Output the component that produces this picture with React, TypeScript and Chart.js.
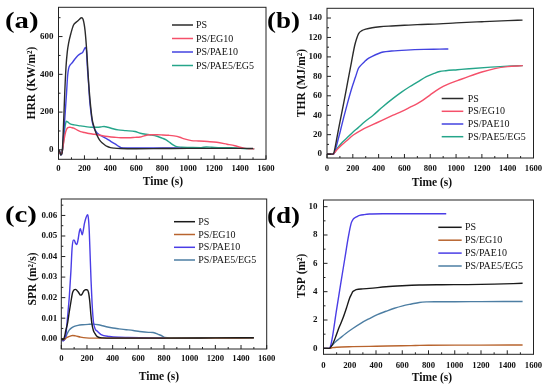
import React, { useEffect, useRef } from "react";
import { Chart, registerables } from "chart.js";
Chart.register(...registerables);

const W = 550;
const H = 391;
const SERIF = "'Liberation Serif', 'Times New Roman', serif";

// ---- shared ticks ----
const TIME_TICKS = [0, 200, 400, 600, 800, 1000, 1200, 1400, 1600];
const TIME_MINOR = [100, 300, 500, 700, 900, 1100, 1300, 1500];
const SERIES_LABELS = ["PS", "PS/EG10", "PS/PAE10", "PS/PAE5/EG5"];

// ---- (a) HRR ----
const HRR_TICKS = [0, 200, 400, 600];
const HRR_MINOR = [100, 300, 500, 700];
const hrrPS = [[0,0],[10,-10],[18,-28],[28,-15],[38,120],[48,300],[58,440],[68,520],[78,565],[95,615],[115,660],[140,678],[160,690],[177,700],[190,690],[205,630],[218,520],[232,360],[245,250],[260,160],[275,120],[290,88],[310,60],[325,45],[350,30],[375,18],[400,12],[430,9],[480,7],[600,6],[800,7],[1000,8],[1200,8],[1400,8],[1500,8]];
const hrrEG10 = [[0,0],[18,-25],[30,-5],[40,40],[50,80],[60,105],[72,118],[85,120],[100,118],[118,115],[145,105],[170,97],[200,92],[223,88],[260,84],[300,80],[340,75],[380,71],[430,67],[480,64],[540,64],[590,66],[630,68],[660,74],[700,80],[760,80],[800,79],[850,77],[890,74],[935,67],[970,58],[1025,49],[1080,47],[1150,44],[1220,40],[1300,30],[1360,22],[1400,14],[1440,8],[1470,6],[1510,5]];
const hrrPAE10 = [[0,0],[10,-10],[18,-28],[28,-15],[40,80],[52,200],[62,300],[70,390],[78,430],[90,450],[104,460],[125,480],[150,500],[170,510],[185,515],[200,535],[208,543],[215,530],[222,445],[232,350],[240,265],[250,200],[262,143],[275,115],[290,97],[310,82],[338,71],[370,60],[405,44],[440,30],[465,18],[482,12],[520,10],[700,10],[900,10],[950,9]];
const hrrPAE5EG5 = [[0,0],[18,-25],[30,-5],[40,50],[48,110],[55,140],[60,152],[70,148],[90,138],[120,132],[170,127],[210,123],[250,120],[300,120],[330,122],[352,124],[380,120],[420,112],[460,106],[520,102],[590,97],[630,88],[700,80],[760,72],[800,62],[830,53],[860,38],[880,28],[905,18],[950,14],[1010,13],[1100,12],[1140,15],[1180,14],[1250,12],[1330,12],[1400,8],[1450,6],[1510,5]];

// ---- (b) THR ----
const THR_TICKS = [0, 20, 40, 60, 80, 100, 120, 140];
const THR_MINOR = [10, 30, 50, 70, 90, 110, 130];
const thrPS = [[0,0],[48,0],[55,2],[80,19],[100,33],[130,53],[160,74],[190,95],[215,112],[230,119],[245,124],[270,127],[300,128.5],[350,130],[410,131],[500,131.8],[600,132.5],[700,133.2],[870,134],[1000,135],[1200,136.2],[1400,137.3],[1515,137.8]];
const thrEG10 = [[0,0],[45,0],[55,1],[80,5],[110,9],[150,13.5],[204,19.6],[270,25],[358,30.5],[430,35],[512,40],[580,44],[641,48],[700,52],[744,55.6],[800,61],[873,67.6],[930,71.5],[1010,75.5],[1100,80],[1200,84.5],[1300,88],[1400,90],[1517,91]];
const thrPAE10 = [[0,0],[52,0],[60,2],[80,12],[100,22],[130,38],[160,53],[190,67],[220,79],[243,88],[260,91],[290,95],[310,97.5],[350,100.5],[400,103.5],[435,105],[500,106],[615,107],[750,107.7],[873,108],[940,108.2]];
const thrPAE5EG5 = [[0,0],[45,0],[55,1],[80,6],[110,11],[150,16],[204,23],[240,27],[290,33],[358,40],[430,48.5],[512,57.3],[580,64],[640,69.3],[700,74],[770,79.6],[830,83],[873,85],[920,85.8],[1010,86.8],[1100,87.8],[1270,89.5],[1400,90.5],[1517,91]];

// ---- (c) SPR ----
const SPR_TICKS = [0, 0.01, 0.02, 0.03, 0.04, 0.05, 0.06];
const SPR_MINOR = [0.005, 0.015, 0.025, 0.035, 0.045, 0.055, 0.065];
const sprPS = [[0,0],[15,-0.0005],[25,0.001],[35,0.004],[50,0.008],[62,0.013],[75,0.018],[88,0.0225],[100,0.0238],[110,0.024],[122,0.0235],[135,0.0225],[150,0.0212],[160,0.0215],[175,0.0232],[188,0.0238],[200,0.0238],[212,0.0225],[222,0.018],[230,0.012],[238,0.0075],[250,0.004],[260,0.0027],[280,0.001],[320,0.0004],[400,0.0003],[800,0.0003],[1200,0.0004],[1500,0.0005]];
const sprEG10 = [[0,0],[15,-0.0005],[30,0],[50,0.0008],[70,0.0013],[88,0.0016],[110,0.0014],[150,0.0008],[193,0.0004],[250,0.0003],[400,0.0003],[800,0.0003],[1200,0.0003],[1500,0.0004]];
const sprPAE10 = [[0,0],[15,-0.001],[25,-0.0005],[36,0.002],[48,0.01],[63,0.021],[75,0.033],[84,0.044],[93,0.048],[101,0.048],[110,0.0465],[120,0.0458],[130,0.048],[140,0.0519],[148,0.0535],[156,0.052],[163,0.0506],[172,0.053],[180,0.056],[193,0.059],[205,0.0603],[212,0.058],[218,0.052],[225,0.04],[232,0.028],[240,0.017],[250,0.0084],[262,0.005],[283,0.0035],[310,0.002],[375,0.0011],[450,0.0007],[520,0.0006],[700,0.0004],[810,0.0003]];
const sprPAE5EG5 = [[0,0],[15,-0.001],[25,-0.0003],[36,0.001],[50,0.003],[63,0.0043],[80,0.0053],[101,0.006],[130,0.0065],[167,0.0068],[210,0.007],[245,0.0071],[290,0.0068],[323,0.0063],[360,0.0057],[402,0.0052],[450,0.0048],[506,0.0044],[560,0.004],[610,0.0035],[680,0.0031],[715,0.003],[760,0.002],[790,0.0012],[806,0.0006],[850,0.0004],[1000,0.0004],[1200,0.0004],[1500,0.0005]];

// ---- (d) TSP ----
const TSP_TICKS = [0, 2, 4, 6, 8, 10];
const TSP_MINOR = [1, 3, 5, 7, 9];
const tspPS = [[0,0],[45,0],[60,0.15],[75,0.4],[97,0.92],[120,1.5],[147,2.1],[175,2.85],[198,3.52],[215,3.85],[223,4.0],[240,4.1],[249,4.14],[300,4.2],[350,4.23],[477,4.35],[600,4.42],[730,4.47],[900,4.49],[1100,4.5],[1300,4.53],[1517,4.59]];
const tspEG10 = [[0,0],[45,0],[70,0.05],[100,0.08],[223,0.12],[400,0.15],[600,0.18],[700,0.2],[800,0.22],[1000,0.23],[1200,0.23],[1517,0.24]];
const tspPAE10 = [[0,0],[45,0],[55,0.2],[70,0.9],[97,2.57],[130,4.5],[160,6.2],[190,7.9],[211,8.84],[225,9.1],[236,9.2],[260,9.32],[275,9.38],[310,9.44],[350,9.48],[450,9.5],[700,9.5],[935,9.5]];
const tspPAE5EG5 = [[0,0],[45,0],[60,0.15],[90,0.45],[122,0.69],[170,1.05],[223,1.4],[290,1.8],[350,2.1],[410,2.38],[477,2.62],[540,2.83],[604,3.0],[670,3.13],[730,3.24],[790,3.28],[846,3.29],[1000,3.29],[1200,3.3],[1517,3.31]];

const COLORS_TOP = ["#2b2b2b", "#f5506a", "#4343e0", "#25a58a"];
const COLORS_BOTTOM = ["#1a1a1a", "#b8642e", "#4a3de6", "#4d7ea3"];

type Panel = {
  letter: string;
  letterX: number; letterY: number; letterW: number;
  area: { l: number; r: number; t: number; b: number };
  yMin: number; yMax: number;
  yTicks: number[]; yMinor: number[];
  yFmt: (v: number) => string;
  yTitle: string; yTitleX: number; yTitleY: number;
  xTitleX: number; xTitleY: number;
  yPad: number; xPad: number;
  legX0: number; legX1: number; legTextX: number; legRows: number[];
  series: number[][][];
  colors: string[];
};

const PANELS: Panel[] = [
  {
    letter: "(a)", letterX: 5, letterY: 28, letterW: 36,
    area: { l: 58.5, r: 266, t: 7.3, b: 159.3 },
    yMin: -50, yMax: 755, yTicks: HRR_TICKS, yMinor: HRR_MINOR, yFmt: (v) => String(v),
    yTitle: "HRR (KW/m\u00B2)", yTitleX: 32, yTitleY: 83, xTitleX: 163, xTitleY: 182,
    yPad: 5, xPad: 4,
    legX0: 172, legX1: 193, legTextX: 196, legRows: [25, 38.5, 52, 65.5],
    series: [hrrPS, hrrEG10, hrrPAE10, hrrPAE5EG5], colors: COLORS_TOP,
  },
  {
    letter: "(b)", letterX: 267, letterY: 28, letterW: 33,
    area: { l: 327, r: 533.5, t: 8.3, b: 158 },
    yMin: -4, yMax: 150, yTicks: THR_TICKS, yMinor: THR_MINOR, yFmt: (v) => String(v),
    yTitle: "THR (MJ/m\u00B2)", yTitleX: 302, yTitleY: 83, xTitleX: 432, xTitleY: 183,
    yPad: 5, xPad: 6,
    legX0: 441.7, legX1: 463.3, legTextX: 467.7, legRows: [98.5, 111.3, 124, 136.7],
    series: [thrPS, thrEG10, thrPAE10, thrPAE5EG5], colors: COLORS_TOP,
  },
  {
    letter: "(c)", letterX: 5, letterY: 222, letterW: 36,
    area: { l: 61.3, r: 266.7, t: 199, b: 349 },
    yMin: -0.005, yMax: 0.068, yTicks: SPR_TICKS, yMinor: SPR_MINOR, yFmt: (v) => v.toFixed(2),
    yTitle: "SPR (m\u00B2/s)", yTitleX: 33, yTitleY: 279, xTitleX: 159, xTitleY: 377,
    yPad: 4, xPad: 5,
    legX0: 174, legX1: 195, legTextX: 198.3, legRows: [221.7, 234.5, 247.3, 260],
    series: [sprPS, sprEG10, sprPAE10, sprPAE5EG5], colors: COLORS_BOTTOM,
  },
  {
    letter: "(d)", letterX: 267, letterY: 222.5, letterW: 33,
    area: { l: 323.5, r: 533.5, t: 200, b: 354.3 },
    yMin: -0.42, yMax: 10.47, yTicks: TSP_TICKS, yMinor: TSP_MINOR, yFmt: (v) => String(v),
    yTitle: "TSP (m\u00B2)", yTitleX: 302, yTitleY: 276, xTitleX: 432, xTitleY: 378,
    yPad: 6, xPad: 6,
    legX0: 438.3, legX1: 461.7, legTextX: 465, legRows: [227.3, 240.2, 253.1, 266],
    series: [tspPS, tspEG10, tspPAE10, tspPAE5EG5], colors: COLORS_BOTTOM,
  },
];

function decorPlugin(p: Panel) {
  return {
    id: "decor",
    afterDraw(chart: any) {
      const ctx = chart.ctx as CanvasRenderingContext2D;
      const { left, right, top, bottom } = chart.chartArea;
      const xs = chart.scales.x;
      const ys = chart.scales.y;
      ctx.save();
      // frame
      ctx.strokeStyle = "#222";
      ctx.lineWidth = 1;
      ctx.strokeRect(left, top, right - left, bottom - top);
      // ticks (inward)
      ctx.beginPath();
      const tickX = (v: number, len: number) => {
        const x = xs.getPixelForValue(v);
        ctx.moveTo(x, bottom);
        ctx.lineTo(x, bottom - len);
      };
      const tickY = (v: number, len: number) => {
        const y = ys.getPixelForValue(v);
        if (y < top || y > bottom) return;
        ctx.moveTo(left, y);
        ctx.lineTo(left + len, y);
      };
      TIME_TICKS.forEach((v) => tickX(v, 4));
      TIME_MINOR.forEach((v) => tickX(v, 2));
      p.yTicks.forEach((v) => tickY(v, 4));
      p.yMinor.forEach((v) => tickY(v, 2));
      ctx.stroke();

      // axis titles
      ctx.fillStyle = "#111";
      ctx.font = `bold 11.5px ${SERIF}`;
      ctx.textAlign = "center";
      ctx.textBaseline = "middle";
      ctx.fillText("Time (s)", p.xTitleX, p.xTitleY);
      ctx.save();
      ctx.translate(p.yTitleX, p.yTitleY);
      ctx.rotate(-Math.PI / 2);
      ctx.fillText(p.yTitle, 0, 0);
      ctx.restore();

      // legend
      ctx.font = `10px ${SERIF}`;
      ctx.textAlign = "left";
      ctx.textBaseline = "middle";
      chart.data.datasets.forEach((ds: any, i: number) => {
        const y = p.legRows[i];
        ctx.strokeStyle = ds.borderColor;
        ctx.lineWidth = 1.5;
        ctx.beginPath();
        ctx.moveTo(p.legX0, y);
        ctx.lineTo(p.legX1, y);
        ctx.stroke();
        ctx.fillStyle = "#111";
        ctx.fillText(ds.label, p.legTextX, y + 0.5);
      });

      // panel letter
      ctx.font = `bold 24px ${SERIF}`;
      ctx.textBaseline = "alphabetic";
      ctx.textAlign = "left";
      const mw = ctx.measureText(p.letter).width;
      ctx.translate(p.letterX, p.letterY);
      ctx.scale(Math.min(1.2, p.letterW / mw), 1);
      ctx.fillStyle = "#000";
      ctx.fillText(p.letter, 0, 0);
      ctx.restore();
    },
  };
}

function makeConfig(p: Panel): any {
  const tickFont = { family: SERIF, weight: "bold" as const, size: 9 };
  return {
    type: "line",
    data: {
      datasets: p.series.map((pts, i) => ({
        label: SERIES_LABELS[i],
        data: pts.map(([x, y]) => ({ x, y })),
        borderColor: p.colors[i],
        backgroundColor: p.colors[i],
        borderWidth: 1.4,
        pointRadius: 0,
        cubicInterpolationMode: "monotone",
        fill: false,
      })),
    },
    options: {
      responsive: false,
      animation: false,
      events: [],
      layout: { padding: { left: 0, top: p.area.t, right: W - p.area.r, bottom: 0 } },
      plugins: { legend: { display: false }, tooltip: { enabled: false }, title: { display: false } },
      scales: {
        x: {
          type: "linear",
          min: 0,
          max: 1600,
          grid: { display: false, drawTicks: false },
          border: { display: false },
          ticks: {
            font: { ...tickFont, size: 8.7 },
            color: "#111",
            padding: p.xPad,
            maxRotation: 0,
            minRotation: 0,
            autoSkip: false,
            callback: (v: number) => String(v),
          },
          afterBuildTicks: (s: any) => {
            s.ticks = TIME_TICKS.map((v) => ({ value: v }));
          },
          afterFit: (s: any) => {
            s.height = H - p.area.b;
            s.paddingLeft = 0;
            s.paddingRight = 0;
          },
        },
        y: {
          type: "linear",
          min: p.yMin,
          max: p.yMax,
          grid: { display: false, drawTicks: false },
          border: { display: false },
          ticks: {
            font: tickFont,
            color: "#111",
            padding: p.yPad,
            autoSkip: false,
            callback: (v: number) => p.yFmt(v),
          },
          afterBuildTicks: (s: any) => {
            s.ticks = p.yTicks.map((v) => ({ value: v }));
          },
          afterFit: (s: any) => {
            s.width = p.area.l;
            s.paddingTop = 0;
            s.paddingBottom = 0;
          },
        },
      },
    },
    plugins: [decorPlugin(p)],
  };
}

function PanelChart({ panel }: { panel: Panel }) {
  const ref = useRef<HTMLCanvasElement>(null);
  useEffect(() => {
    if (!ref.current) return;
    const chart = new Chart(ref.current, makeConfig(panel));
    return () => chart.destroy();
  }, [panel]);
  return (
    <canvas
      ref={ref}
      width={W}
      height={H}
      style={{ position: "absolute", left: 0, top: 0, width: W, height: H }}
    />
  );
}

export default function App() {
  return (
    <div style={{ position: "fixed", left: 0, top: 0, width: W, height: H, background: "#fff" }}>
      {PANELS.map((p) => (
        <PanelChart key={p.letter} panel={p} />
      ))}
    </div>
  );
}
